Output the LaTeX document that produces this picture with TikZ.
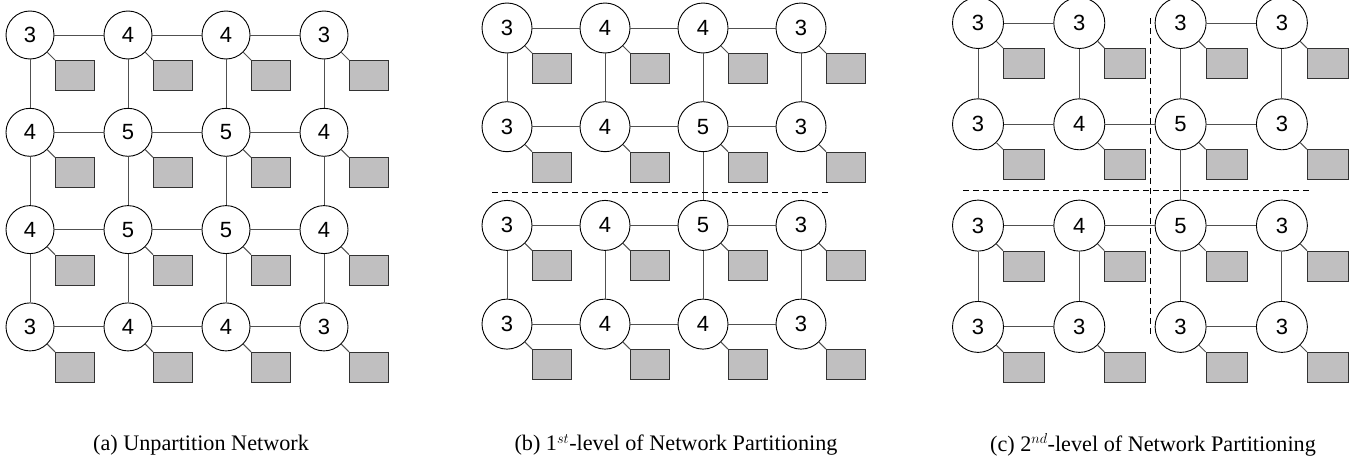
\documentclass[tikz,border=0pt]{standalone}
\usepackage{fontspec}
\setmainfont{Liberation Serif}
\newfontfamily\numfont{Liberation Sans}
\definecolor{boxgray}{HTML}{C0BFC0}
\definecolor{linegray}{HTML}{505050}
\tikzset{
  nd/.style={circle,draw=black,line width=0.9pt,fill=white,inner sep=0pt,minimum size=#1,
    font=\numfont\fontsize{22}{22}\selectfont},
  pc/.style={draw=black!80,line width=1pt,fill=boxgray,inner sep=0pt,minimum width=#1,minimum height=30pt,anchor=north west},
  ln/.style={draw=linegray,line width=1pt},
  dl/.style={draw=black,line width=0.9pt,dash pattern=on 6pt off 4pt},
  captxt/.style={font=\fontsize{22.2}{25}\selectfont,anchor=center}
}
\newcommand\drawgrid[8]{% #1 prefix, #2 x0, #3 dx, #4 y0, #5 dy, #6 diameter, #7 box width, #8 labels
  \foreach \l [count=\k from 0] in {#8} {
    \pgfmathtruncatemacro\ci{mod(\k,4)}
    \pgfmathtruncatemacro\rj{div(\k,4)}
    \node[nd=#6] (#1-\rj-\ci) at ({#2+#3*\ci},{#4+#5*\rj}) {\l};
    \node[pc=#7] (#1s-\rj-\ci) at ({#2+#3*\ci+25},{#4+#5*\rj+25}) {};
    \draw[ln] (#1-\rj-\ci) -- (#1s-\rj-\ci.north west);
  }
}
\begin{document}
\begin{tikzpicture}[x=1pt,y=-1pt]
\useasboundingbox (0,0) rectangle (1368,463);

% ---------- panel (a)
\drawgrid{a}{30}{98}{35}{97.3}{48pt}{39pt}{3,4,4,3,4,5,5,4,4,5,5,4,3,4,4,3}
\foreach \r in {0,...,3}{
  \foreach \c [evaluate=\c as \n using int(\c+1)] in {0,1,2}{
    \draw[ln] (a-\r-\c) -- (a-\r-\n);}}
\foreach \r [evaluate=\r as \n using int(\r+1)] in {0,1,2}{
  \foreach \c in {0,...,3}{
    \draw[ln] (a-\r-\c) -- (a-\n-\c);}}

% ---------- panel (b)
\drawgrid{b}{507}{98}{28}{98.7}{50pt}{39pt}{3,4,4,3,3,4,5,3,3,4,5,3,3,4,4,3}
\foreach \r in {0,...,3}{
  \foreach \c [evaluate=\c as \n using int(\c+1)] in {0,1,2}{
    \draw[ln] (b-\r-\c) -- (b-\r-\n);}}
\foreach \r [evaluate=\r as \n using int(\r+1)] in {0,2}{
  \foreach \c in {0,...,3}{
    \draw[ln] (b-\r-\c) -- (b-\n-\c);}}
\draw[ln] (b-1-2) -- (b-2-2);
\coordinate (bdl) at (492,192);
\coordinate (bdr) at (828,192);
\draw[dl] (bdl) -- (bdr);

% ---------- panel (c)
\drawgrid{c}{978}{101.3}{23}{101.3}{51pt}{41pt}{3,3,3,3,3,4,5,3,3,4,5,3,3,3,3,3}
\foreach \r in {0,3}{
  \foreach \c [evaluate=\c as \n using int(\c+1)] in {0,2}{
    \draw[ln] (c-\r-\c) -- (c-\r-\n);}}
\foreach \r in {1,2}{
  \foreach \c [evaluate=\c as \n using int(\c+1)] in {0,1,2}{
    \draw[ln] (c-\r-\c) -- (c-\r-\n);}}
\foreach \r [evaluate=\r as \n using int(\r+1)] in {0,2}{
  \foreach \c in {0,...,3}{
    \draw[ln] (c-\r-\c) -- (c-\n-\c);}}
\draw[ln] (c-1-2) -- (c-2-2);
\coordinate (chl) at (963,190.7);
\coordinate (chr) at (1310,190.7);
\coordinate (cvt) at (1150,18);
\coordinate (cvb) at (1150,334);
\draw[dl] (chl) -- (chr);
\draw[dl] (cvt) -- (cvb);

% ---------- captions
\node[captxt] (capa) at (201,445) {(a) Unpartition Network};
\node[captxt] (capb) at (676,445) {(b) 1$^{st}$-level of Network Partitioning};
\node[captxt] (capc) at (1153,445) {(c) 2$^{nd}$-level of Network Partitioning};
\end{tikzpicture}
\end{document}
